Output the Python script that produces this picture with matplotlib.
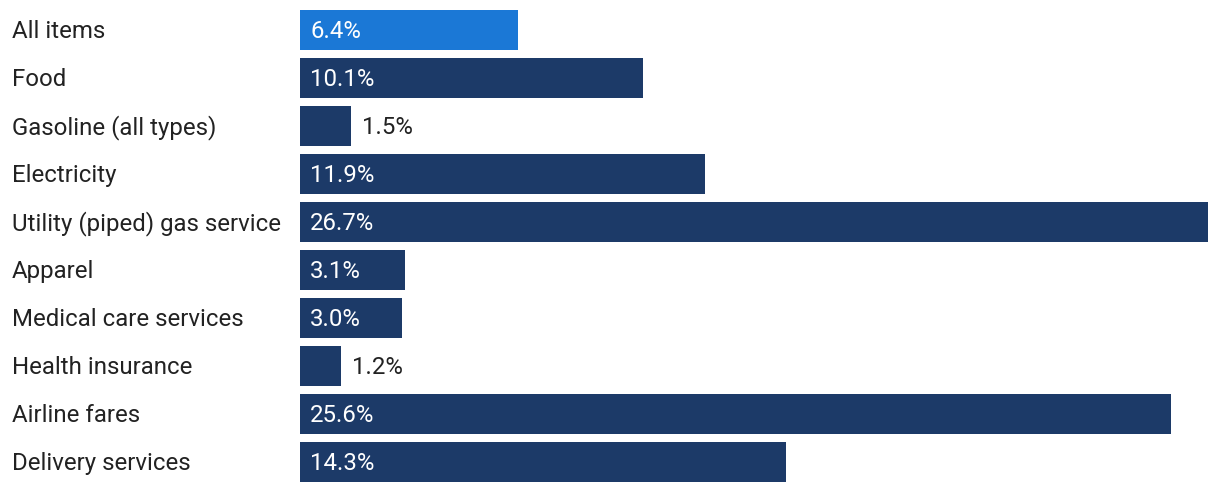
import matplotlib.pyplot as plt
import matplotlib.transforms as mtransforms

plt.rcParams['font.family'] = ['Roboto', 'DejaVu Sans']

categories = ['All items', 'Food', 'Gasoline (all types)', 'Electricity',
              'Utility (piped) gas service', 'Apparel', 'Medical care services',
              'Health insurance', 'Airline fares', 'Delivery services']
values = [6.4, 10.1, 1.5, 11.9, 26.7, 3.1, 3.0, 1.2, 25.6, 14.3]
highlight = 'All items'

navy = '#1c3a68'
blue = '#1b78d6'
fs = 17.3

fig = plt.figure(figsize=(12.2, 4.92), dpi=100)
ax = fig.add_axes([300 / 1220, 6 / 492, 908 / 1220, 480 / 492])

y = list(range(len(categories)))
colors = [blue if c == highlight else navy for c in categories]
ax.barh(y, values, height=40 / 48, color=colors)

ax.set_xlim(0, max(values))
ax.set_ylim(len(categories) - 0.5, -0.5)
ax.axis('off')

# text sits on a baseline about 8.5 px below the bar centre
base = 8.5 / 48

# category labels, left aligned at the figure edge
trans = mtransforms.blended_transform_factory(fig.transFigure, ax.transData)
for yi, cat in zip(y, categories):
    ax.text(12 / 1220, yi + base, cat, transform=trans, ha='left', va='baseline',
            fontsize=fs, color='#222222')

# value labels: inside the bar if it fits, otherwise just after it
px = max(values) / 908
for yi, v in zip(y, values):
    if v >= 2.5:
        ax.text(10 * px, yi + base, f'{v:.1f}%', ha='left', va='baseline',
                fontsize=fs, color='white')
    else:
        ax.text(v + 11 * px, yi + base, f'{v:.1f}%', ha='left', va='baseline',
                fontsize=fs, color='#222222')

fig.savefig('out.png', dpi=100)
